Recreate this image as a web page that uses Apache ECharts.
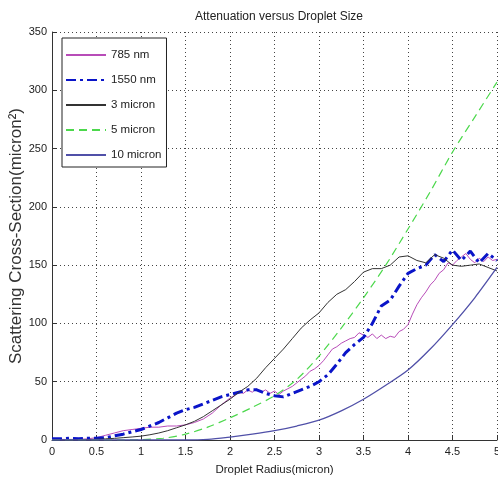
<!DOCTYPE html>
<html>
<head>
<meta charset="utf-8">
<script src="https://cdn.jsdelivr.net/npm/echarts@6/dist/echarts.min.js"></script>
<style>html,body{margin:0;padding:0;background:#fff}#c{width:498px;height:489px}</style>
</head>
<body>
<div id="c"></div>
<script>
const HFONT = "'Liberation Sans', Arial, sans-serif";

const seriesNames = ['785 nm', '1550 nm', '3 micron', '5 micron', '10 micron'];

const xFine = [0,0.1,0.2,0.3,0.4,0.5,0.6,0.7,0.8,0.9,
  1.0,1.1,1.2,1.3,1.4,1.5,1.6,1.7,1.8,1.9,
  2.0,2.1,2.2,2.3,2.4,2.5,2.6,2.7,2.8,2.9,
  3.0,3.1,3.2,3.3,3.4,3.5,3.6,3.7,3.8,3.9,
  4.0,4.1,4.2,4.3,4.4,4.5,4.6,4.7,4.8,4.9,5.0];

const x785 = [0,0.1,0.2,0.3,0.4,0.5,0.6,0.7,0.8,0.9,
  1.0,1.1,1.2,1.3,1.4,1.5,1.6,1.7,1.8,1.9,
  2.0,2.05,2.1,2.15,2.2,2.25,2.3,2.35,2.4,2.45,2.5,2.55,2.6,2.65,2.7,2.75,2.8,2.85,2.9,2.95,
  3.0,3.05,3.1,3.15,3.2,3.25,3.3,3.35,3.4,3.45,3.5,3.55,3.6,3.65,3.7,3.75,3.8,3.85,3.9,3.95,
  4.0,4.05,4.1,4.15,4.2,4.25,4.3,4.35,4.4,4.45,4.5,4.55,4.6,4.65,4.7,4.75,4.8,4.85,4.9,4.95,5.0];

const xCoarse = [0,0.25,0.5,0.75,1.0,1.25,1.5,1.75,2.0,2.25,2.5,2.75,3.0,3.25,3.5,3.75,4.0,4.25,4.5,4.75,5.0];

const y785 = [0.5,0.5,0.5,0.5,1,2,4,6,8,9,
  10,11,11,12,12,13,15,18,23,30,
  36,38,41,40,43,41,44,41,43,40,42,39,42,44,46,49,52,55,59,61,
  64,68,73,78,80,83,85,87,88,92,90,88,91,87,90,87,89,88,93,95,
  99,108,116,122,127,133,137,143,146,152,150,154,157,160,155,152,156,153,157,154,155];

const y1550 = [1,1,1.5,1,1.5,1.5,2,3.5,5,7,
  9,12,15,19,23,26,28,31,34,37,
  39,41,43,43,40,38,37,40,43,46,
  50,56,65,75,82,88,100,115,120,132,
  143,147,150,159,153,163,154,162,152,160,154];

const y3um = [0,0,0,0.2,0.4,0.6,1,1.4,2,2.6,
  3.3,4.5,6,8,10.5,13,16,20,25,30,
  35,41,46,53,62,70,78,87,96,103,
  109,118,125,129,136,144,147,147,150,157,
  158,154,152,159,156,150,149,150,151,148,145];

const y5um = [0,0,0,0,0.3,1.5,5,11,19,28,38,52,72,96,122,150,181,213,247,277,307];

const y10um = [0,0,0,0,0,0,0,0.5,2.5,5,8,12,17,25,35,47,60,78,99,122,148];

const xTicks = {min: 0, max: 5, interval: 0.5};
const yTicks = {min: 0, max: 350, interval: 50};

function pairs(xs, ys) { return xs.map((x, i) => [x, ys[i]]); }

const chart = echarts.init(document.getElementById('c'), null, {renderer: 'canvas'});
chart.setOption({
  backgroundColor: '#fff',
  animation: false,
  title: {
    text: 'Attenuation versus Droplet Size',
    left: 274, top: 6, textAlign: 'center',
    textStyle: {fontFamily: HFONT, fontSize: 12, fontWeight: 'normal', color: '#222'}
  },
  grid: {left: 52, right: 1, top: 32, bottom: 49, containLabel: false, outerBoundsMode: 'none'},
  legend: {
    data: seriesNames,
    orient: 'vertical',
    left: 62, top: 38,
    padding: [11, 5, 6, 3],
    itemWidth: 40, itemHeight: 14, itemGap: 13,
    backgroundColor: '#fff',
    borderColor: '#222', borderWidth: 1,
    itemStyle: {opacity: 0},
    textStyle: {fontFamily: HFONT, fontSize: 11.5, color: '#222'}
  },
  xAxis: {
    type: 'value', min: xTicks.min, max: xTicks.max, interval: xTicks.interval,
    name: 'Droplet Radius(micron)', nameLocation: 'middle', nameGap: 24,
    nameMoveOverlap: false,
    nameTextStyle: {fontFamily: HFONT, fontSize: 11.5, color: '#222'},
    axisLine: {show: true, onZero: false, lineStyle: {color: '#333', width: 1}},
    axisTick: {show: true, inside: true, length: 5, lineStyle: {color: '#333'}},
    axisLabel: {fontFamily: HFONT, fontSize: 11, color: '#222', margin: 6},
    splitLine: {show: true, lineStyle: {type: [1, 3], color: '#444', width: 1}}
  },
  yAxis: {
    type: 'value', min: yTicks.min, max: yTicks.max, interval: yTicks.interval,
    name: 'Scattering Cross-Section(micron²)', nameLocation: 'middle', nameGap: 27,
    nameMoveOverlap: false,
    nameTextStyle: {fontFamily: HFONT, fontSize: 17, color: '#333'},
    axisLine: {show: true, lineStyle: {color: '#333', width: 1}},
    axisTick: {show: true, inside: true, length: 5, lineStyle: {color: '#333'}},
    axisLabel: {fontFamily: HFONT, fontSize: 11, color: '#222', margin: 5},
    splitLine: {show: true, lineStyle: {type: [1, 3], color: '#444', width: 1}}
  },
  series: [
    {name: seriesNames[0], type: 'line', symbol: 'none', data: pairs(x785, y785),
     lineStyle: {color: '#b84cb8', width: 1}, itemStyle: {color: '#b84cb8'}, z: 3},
    {name: seriesNames[1], type: 'line', symbol: 'none', data: pairs(xFine, y1550),
     lineStyle: {color: '#0a14c8', width: 3, type: [10, 4, 3, 4]}, itemStyle: {color: '#0a14c8'}, z: 4},
    {name: seriesNames[2], type: 'line', symbol: 'none', data: pairs(xFine, y3um),
     lineStyle: {color: '#333333', width: 1}, itemStyle: {color: '#333333'}, z: 5},
    {name: seriesNames[3], type: 'line', symbol: 'none', data: pairs(xCoarse, y5um), smooth: 0.3,
     lineStyle: {color: '#4cd84c', width: 1.2, type: [8, 5]}, itemStyle: {color: '#4cd84c'}, z: 6},
    {name: seriesNames[4], type: 'line', symbol: 'none', data: pairs(xCoarse, y10um), smooth: 0.3,
     lineStyle: {color: '#5050a8', width: 1.3}, itemStyle: {color: '#5050a8'}, z: 7}
  ]
});
</script>
</body>
</html>
